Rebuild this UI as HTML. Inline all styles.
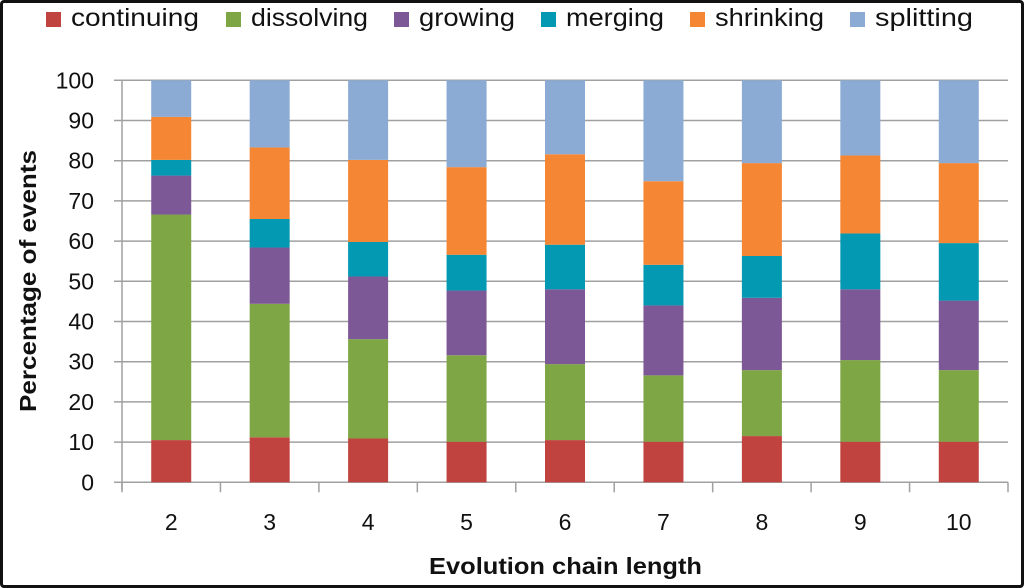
<!DOCTYPE html>
<html><head><meta charset="utf-8"><style>
body{margin:0;background:#fff;}
#wrap{position:relative;width:1024px;height:588px;overflow:hidden;background:#fff;font-family:"Liberation Sans",sans-serif;}
#frame{position:absolute;left:0px;top:0px;width:1018px;height:582px;border:3px solid #111;border-radius:4px;}
</style></head><body>
<div id="wrap">
<div id="frame"></div>
<svg id="svg" width="1024" height="588" style="position:absolute;left:0;top:0"></svg>
</div>
<script>
const categories=["2","3","4","5","6","7","8","9","10"];
const seriesNames=["continuing","dissolving","growing","merging","shrinking","splitting"];
const continuing=[10.5,11.2,10.9,10.1,10.5,10.1,11.5,10.1,10.1];
const dissolving=[56.1,33.2,24.7,21.5,18.9,16.5,16.4,20.3,17.8];
const growing=[9.7,14.0,15.6,16.1,18.6,17.4,18.0,17.6,17.3];
const merging=[3.9,7.1,8.6,8.9,11.1,10.1,10.4,13.9,14.3];
const shrinking=[10.7,17.8,20.4,21.8,22.5,20.8,23.1,19.4,19.9];
const splitting=[9.1,16.7,19.8,21.6,18.4,25.1,20.6,18.7,20.6];
const yTicks=[0,10,20,30,40,50,60,70,80,90,100];
const colors=["#c0433f","#7ea644","#7d5896","#0399b3","#f48634","#8babd4"];
const series=[continuing,dissolving,growing,merging,shrinking,splitting];

const svg=document.getElementById('svg');
const NS='http://www.w3.org/2000/svg';
function mk(t,a){const e=document.createElementNS(NS,t);for(const k in a)e.setAttribute(k,a[k]);svg.appendChild(e);return e;}
const x0=122,x1=1008,y0=482.3,y1=80.3;
const step=(x1-x0)/categories.length;
const yS=v=>y0-(v/100)*(y0-y1);
const xC=i=>x0+step*(i+0.5);
const bw=40;

yTicks.forEach(t=>{
  const g=mk('line',{x1:x0-8,x2:x1,y1:yS(t),y2:yS(t),stroke:'#a0a0a0','stroke-width':1.5});
  
  
  const l=mk('text',{x:x0-28,y:yS(t)+8,'text-anchor':'end','font-size':23,fill:'#111'});
  l.textContent=t;
  
  
});
const ya=mk('line',{x1:x0,x2:x0,y1:y1,y2:y0+8,stroke:'#a0a0a0','stroke-width':1.5});


for(let i=0;i<=categories.length;i++){
  const tk=mk('line',{x1:x0+step*i,x2:x0+step*i,y1:y0,y2:y0+10,stroke:'#a0a0a0','stroke-width':1.5});
  
  
}
categories.forEach((c,i)=>{
  let acc=0;
  series.forEach((s,j)=>{
    const v=s[i];
    const r=mk('rect',{x:xC(i)-bw/2,y:yS(acc+v),width:bw,height:yS(acc)-yS(acc+v),fill:colors[j]});
    
    
    acc+=v;
  });
  const l=mk('text',{x:xC(i),y:530,'text-anchor':'middle','font-size':23,fill:'#111'});
  l.textContent=c;
  
  
});
const xt=mk('text',{x:429,y:574,'font-size':23,'font-weight':'bold',fill:'#111',textLength:273,lengthAdjust:'spacingAndGlyphs'});
xt.textContent='Evolution chain length';


const yt=mk('text',{x:0,y:0,'font-size':23,'font-weight':'bold',fill:'#111',textLength:262,lengthAdjust:'spacingAndGlyphs',transform:'translate(36,412) rotate(-90)'});
yt.textContent='Percentage of events';


const legX=[46,226,394,541,690,850];
const legW=[128,117,96,98,109,98];
seriesNames.forEach((n,j)=>{
  const r=mk('rect',{x:legX[j],y:12,width:15,height:15,fill:colors[j]});
  
  
  const t=mk('text',{x:legX[j]+25,y:26,'font-size':25,fill:'#111',textLength:legW[j],lengthAdjust:'spacingAndGlyphs'});
  t.textContent=n;
  
  
});
</script>
</body></html>
